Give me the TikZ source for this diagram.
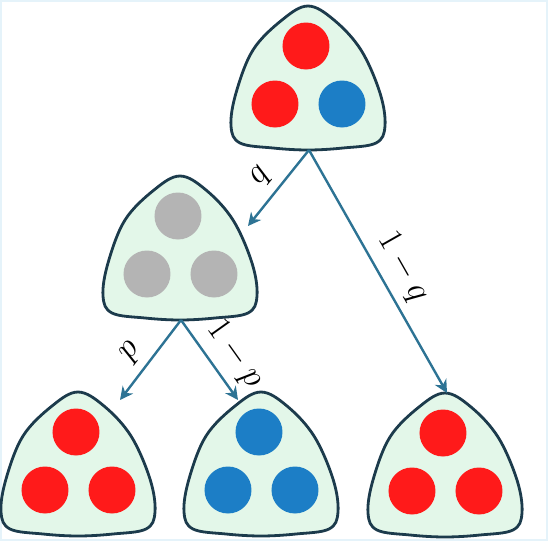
\documentclass[tikz,border=0pt]{standalone}
\usepackage{amsmath}
\usetikzlibrary{arrows.meta,calc}
\definecolor{urnfill}{HTML}{E3F7E9}
\definecolor{urnedge}{HTML}{1C3B4C}
\definecolor{arrowblue}{HTML}{2D7394}
\definecolor{ballred}{HTML}{FF1A1A}
\definecolor{ballblue}{HTML}{1C7EC6}
\definecolor{ballgray}{HTML}{B4B4B4}
\definecolor{framebg}{HTML}{E5F3FA}

% urn with three balls: top, bottom left, bottom right
\tikzset{
  pics/urn/.style n args={3}{code={
    \draw[urnline] plot[smooth cycle, tension=0.6] coordinates {
      (0,-72) (26,-58) (53,-28) (72,15) (77,48) (68,65) (35,70) (0,72)
      (-35,70) (-68,65) (-77,48) (-72,15) (-55,-28) (-26,-58)};
    \fill[#1] (-2,-32) circle (11.75pt);
    \fill[#2] (-33,26) circle (11.75pt);
    \fill[#3] (34,26) circle (11.75pt);
    \coordinate (-c) at (0,0);
    \coordinate (-s) at (1,72);
    \coordinate (-n) at (2,-72);
  }}
}

\begin{document}
\begin{tikzpicture}[
  x=0.5pt, y=-0.5pt,
  >=Stealth,
  urnline/.style={draw=urnedge, fill=urnfill, line width=1.4pt},
  arr/.style={-{Stealth[length=6.5pt,width=6.5pt]}, draw=arrowblue, line width=1.2pt},
  lab/.style={font=\LARGE, above=2pt, sloped, inner sep=2pt}
]
  \useasboundingbox (0,0) rectangle (548,541);
  \draw[framebg, line width=1pt] (1,1) rectangle (547,540);

  \pic (root) at (308,78) {urn={ballred}{ballred}{ballblue}};
  \pic (mix) at (180,248) {urn={ballgray}{ballgray}{ballgray}};
  \pic (allred) at (78,464) {urn={ballred}{ballred}{ballred}};
  \pic (allblue) at (261,464) {urn={ballblue}{ballblue}{ballblue}};
  \pic (stayred) at (445,465) {urn={ballred}{ballred}{ballred}};

  \coordinate (mixin) at ($(mix-c)+(68,-22)$);
  \coordinate (redin) at ($(allred-c)+(42,-64)$);
  \coordinate (bluein) at ($(allblue-c)+(-23,-64)$);

  \draw[arr] (root-s) -- node[lab, pos=.52] {$q$} (mixin);
  \draw[arr] (root-s) -- node[lab, pos=.53] {$1-q$} (stayred-n);
  \draw[arr] (mix-s) -- node[lab, pos=.55] {$p$} (redin);
  \draw[arr] (mix-s) -- node[lab, pos=.6] {$1-p$} (bluein);
\end{tikzpicture}
\end{document}
